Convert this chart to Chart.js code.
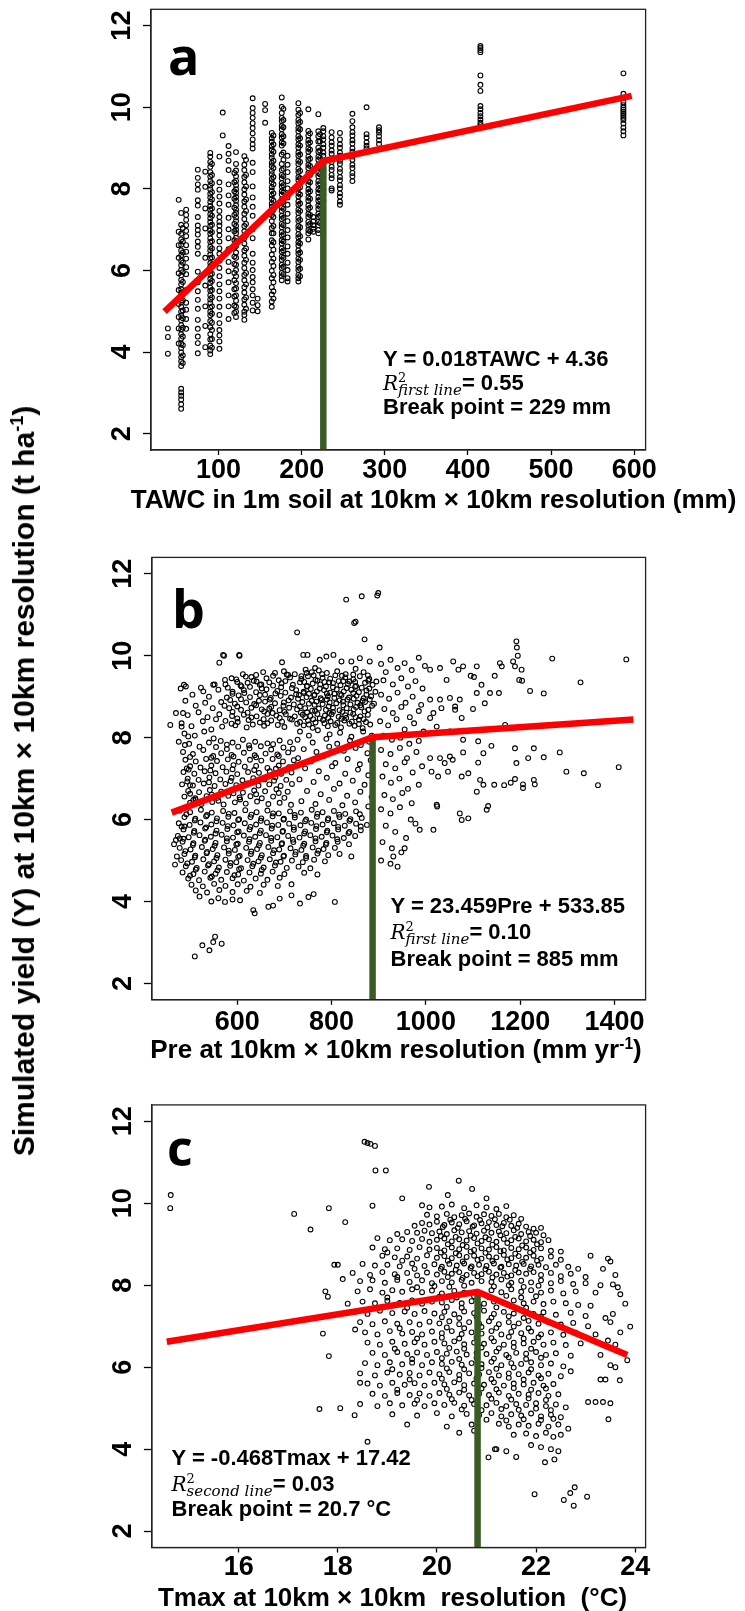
<!DOCTYPE html>
<html>
<head>
<meta charset="utf-8">
<script src="https://cdn.jsdelivr.net/npm/chart.js@4.4.1/dist/chart.umd.min.js"></script>
<style>
  body { margin: 0; background: #fff; width: 745px; height: 1611px; position: relative; overflow: hidden; }
  canvas { position: absolute; left: 0; }
  .lbl { position: absolute; white-space: nowrap; font-family: "Liberation Sans", Arial, sans-serif; font-weight: bold; color: #000; z-index: 2; }
  .letter { font-family: "Open Sans", sans-serif; }
  .lbl sup { font-size: 0.6em; vertical-align: 0; position: relative; top: -0.6em; line-height: 0; }
  .rv { font-family: "DejaVu Serif", serif; font-style: italic; font-weight: normal; font-size: 20px; }
  .sub { position: relative; top: 5px; font-family: "DejaVu Serif", serif; font-style: italic; font-weight: normal; font-size: 15px; line-height: 0; }
  .two { position: absolute; left: 15px; top: -1px; font-family: "DejaVu Serif", serif; font-weight: normal; font-size: 13px; line-height: 13px; }
  #ytitle { position: absolute; left: 26px; top: 781px; transform: translate(-50%, -50%) rotate(-90deg); font: bold 30px "Liberation Sans", Arial, sans-serif; line-height: 30px; white-space: nowrap; }
  #ytitle sup { font-size: 0.6em; vertical-align: 0; position: relative; top: -0.6em; }
</style>
</head>
<body>
<canvas id="cnvA" width="745" height="495" style="top:0px"></canvas>
<canvas id="cnvB" width="745" height="500" style="top:540px"></canvas>
<canvas id="cnvC" width="745" height="521" style="top:1090px"></canvas>
<div id="ytitle">Simulated yield (Y) at 10km × 10km resolution (t ha<sup>-1</sup>)</div>
<script>
// ---- data ----
const yieldTicks = [2, 4, 6, 8, 10, 12];
const yieldRange = [1.6, 12.4];

// panel a: TAWC (mm) columns, each with the yields seen in that column
const tawcTicks = [100, 200, 300, 400, 500, 600];
const tawcX = [39, 52, 55, 61, 75, 84, 90, 101, 105, 112, 121, 131, 141, 147, 156, 164, 176, 183, 196, 208, 214, 220, 226, 236, 246, 261, 278, 293, 415, 587,
               57, 92, 119, 133, 166, 178, 198, 210, 222];
const tawcYields = [
  [4.58, 4.37, 3.96],
  [7.73, 6.95, 6.62, 6.31, 5.93, 5.52, 5.18, 4.86, 4.58, 4.21],
  [7.41, 7.12, 6.9, 6.76, 6.63, 6.49, 6.37, 6.24, 6.13, 6.01, 5.88, 5.77, 5.66, 5.54, 5.45, 5.33, 5.22, 5.11, 4.99, 4.9, 4.78, 4.66, 4.55, 4.44, 4.33, 4.21, 4.1, 3.99, 3.87, 3.77, 3.66, 3.1, 3.01, 2.93, 2.84, 2.72, 2.61],
  [7.49, 7.36, 7.24, 7.11, 6.97, 6.84, 6.62, 6.46, 6.29, 6.08, 5.91, 5.52, 5.21, 5.04, 4.81, 4.57],
  [8.47, 8.27, 8.11, 7.98, 7.72, 7.59, 7.31, 7.1, 6.99, 6.88, 6.71, 6.58, 6.41, 5.97, 5.71, 5.49, 5.28, 5.06, 4.79, 4.57, 4.38, 4.22, 3.97],
  [8.42, 8.05, 7.52, 7.03, 6.31, 5.63, 5.12, 4.64, 4.12],
  [8.88, 8.79, 8.66, 8.54, 8.41, 8.3, 8.19, 8.08, 7.99, 7.88, 7.79, 7.68, 7.58, 7.49, 7.38, 7.28, 7.19, 7.09, 6.98, 6.9, 6.79, 6.7, 6.58, 6.49, 6.39, 6.3, 6.18, 6.09, 5.99, 5.9, 5.79, 5.7, 5.58, 5.5, 5.39, 5.29, 5.2, 5.09, 4.99, 4.9, 4.76, 4.61, 4.44, 4.31, 4.16, 4.04, 3.95],
  [8.79, 8.16, 7.98, 7.81, 7.64, 7.46, 7.31, 7.19, 7.1, 6.98, 6.86, 6.71, 6.54, 6.41, 6.24, 6.06, 5.86, 5.66, 5.49, 5.31, 5.11, 4.91, 4.71, 4.54, 4.41, 4.26, 4.08],
  [9.87, 9.31],
  [9.05, 8.86, 8.69, 8.46, 8.11, 7.84, 7.61, 7.29, 7.01, 6.79, 6.52, 6.21, 5.98, 5.71, 5.39, 5.12, 4.81],
  [8.9, 8.61, 8.45, 8.31, 8.2, 8.09, 7.99, 7.9, 7.8, 7.71, 7.6, 7.49, 7.41, 7.3, 7.21, 7.09, 7.0, 6.91, 6.8, 6.69, 6.6, 6.44, 6.31, 6.14, 6.01, 5.86, 5.69, 5.56, 5.39, 5.26, 5.11, 4.99, 4.86],
  [8.8, 8.59, 8.46, 8.29, 8.16, 7.99, 7.86, 7.69, 7.56, 7.39, 7.26, 7.09, 6.96, 6.79, 6.66, 6.49, 6.36, 6.19, 6.06, 5.89, 5.76, 5.59, 5.46, 5.29, 5.16, 4.99, 4.91, 4.79],
  [10.22, 9.98, 9.86, 9.74, 9.61, 9.49, 9.36, 9.21, 9.09, 8.99, 8.64, 8.41, 8.06, 7.79, 7.56, 7.34, 7.01, 6.79, 6.41, 6.19, 6.01, 5.84, 5.71, 5.54, 5.39, 5.21, 5.02],
  [5.31, 5.15, 5.0],
  [10.08, 9.93, 9.62],
  [9.37, 9.24, 9.16, 9.04, 8.96, 8.84, 8.76, 8.64, 8.56, 8.44, 8.36, 8.24, 8.16, 8.04, 7.96, 7.84, 7.76, 7.64, 7.56, 7.44, 7.36, 7.21, 7.04, 6.91, 6.74, 6.61, 6.39, 6.21, 5.99, 5.81, 5.59, 5.41, 5.24, 5.11],
  [10.24, 10.01, 9.86, 9.74, 9.66, 9.54, 9.46, 9.34, 9.26, 9.14, 9.06, 8.84, 8.61, 8.46, 8.34, 8.26, 8.14, 8.06, 7.94, 7.86, 7.74, 7.66, 7.54, 7.46, 7.34, 7.26, 7.14, 7.06, 6.94, 6.86, 6.74, 6.66, 6.54, 6.46, 6.34, 6.26, 6.14, 6.06, 5.94, 5.86, 5.76],
  [8.81, 8.59, 8.41, 8.19, 8.01, 7.79, 7.61, 7.39, 7.21, 6.99, 6.81, 6.59, 6.41, 6.19, 6.01, 5.81, 5.73],
  [10.1, 9.94, 9.81, 9.69, 9.61, 9.49, 9.41, 9.29, 9.21, 9.09, 9.01, 8.89, 8.81, 8.69, 8.61, 8.49, 8.41, 8.29, 8.21, 8.09, 8.01, 7.89, 7.81, 7.69, 7.61, 7.49, 7.41, 7.29, 7.21, 7.09, 7.01, 6.89, 6.81, 6.69, 6.61, 6.49, 6.41, 6.29, 6.21, 6.09, 6.01, 5.89, 5.81, 5.73],
  [9.95, 9.42, 9.31, 9.19, 9.11, 8.99, 8.91, 8.79, 8.71, 8.59, 8.51, 8.39, 8.31, 8.19, 8.11, 7.99, 7.91, 7.79, 7.71, 7.59, 7.51, 7.39, 7.31, 7.19, 7.11, 6.99, 6.91, 6.76],
  [7.31, 7.2, 7.11, 7.02, 6.95],
  [9.83, 9.41, 9.29, 9.16, 9.01, 8.91, 8.79, 8.71, 8.59, 8.51, 8.39, 8.31, 8.19, 8.11, 7.99, 7.91, 7.79, 7.71, 7.59, 7.51, 7.39, 7.31, 7.19, 7.11, 6.99, 6.91],
  [9.49, 9.41, 9.29, 9.21, 9.09, 9.01, 8.89, 8.81, 8.69, 8.61, 8.49, 8.41, 8.29, 8.11, 7.99, 7.86, 7.71],
  [9.39, 9.26, 9.14, 9.06, 8.94, 8.86, 8.74, 8.66, 8.54, 8.46, 8.34, 8.26, 8.01, 7.96],
  [9.37, 9.21, 9.09, 9.01, 8.89, 8.81, 8.69, 8.61, 8.49, 8.41, 8.29, 8.21, 8.09, 8.01, 7.89, 7.81, 7.69, 7.61],
  [9.84, 9.66, 9.51, 9.39, 9.31, 9.19, 9.11, 8.99, 8.91, 8.79, 8.71, 8.59, 8.51, 8.39, 8.31, 8.19],
  [10.0, 9.34, 9.26, 9.14, 9.06, 8.99],
  [9.51, 9.44, 9.38, 9.29, 9.19, 9.1],
  [11.5, 11.45, 11.4, 11.35, 10.78, 10.55, 10.4, 10.03, 9.95, 9.86, 9.78, 9.7, 9.62, 9.56],
  [10.83, 10.33, 10.12, 10.05, 9.99, 9.94, 9.89, 9.84, 9.79, 9.74, 9.69, 9.6, 9.5, 9.41, 9.31],
  [7.04, 6.71, 6.44, 6.19, 5.96, 5.72, 5.47, 5.27, 5.02, 4.83, 4.6, 4.38, 4.17, 3.92, 3.73],
  [8.61, 8.34, 8.14, 7.92, 7.74, 7.52, 7.34, 7.12, 6.94, 6.72, 6.54, 6.32, 6.14, 5.92, 5.74, 5.52, 5.34, 5.12, 4.94, 4.72, 4.54, 4.32, 4.11],
  [8.39, 8.16, 7.94, 7.76, 7.54, 7.36, 7.14, 6.96, 6.74, 6.56, 6.34, 6.16, 5.94, 5.76, 5.54, 5.36, 5.14, 4.96],
  [8.71, 8.34, 8.06, 7.74, 7.46, 7.14, 6.86, 6.54, 6.26, 5.94, 5.66, 5.34, 5.06],
  [9.31, 9.09, 8.91, 8.69, 8.51, 8.29, 8.11, 7.89, 7.71, 7.49, 7.31, 7.09, 6.91, 6.69, 6.51, 6.29, 6.11, 5.89, 5.71, 5.49, 5.31],
  [9.96, 9.69, 9.51, 9.29, 9.11, 8.89, 8.71, 8.49, 8.31, 8.09, 7.91, 7.69, 7.51, 7.29, 7.11, 6.89, 6.71, 6.49, 6.31, 6.09, 5.91],
  [9.86, 9.64, 9.46, 9.24, 9.06, 8.84, 8.66, 8.44, 8.26, 8.04, 7.86, 7.64, 7.46, 7.24, 7.06, 6.84, 6.66, 6.44, 6.26, 6.04, 5.86],
  [9.36, 9.14, 8.96, 8.74, 8.56, 8.34, 8.16, 7.94, 7.76, 7.54, 7.36, 7.14, 6.96],
  [9.34, 9.16, 8.94, 8.76, 8.54, 8.36, 8.14, 7.96, 7.74, 7.56, 7.34, 7.16]
];
const tawcFitX = [35, 226, 597];
const tawcFitY = [4.99, 8.68, 10.28];

// panel b: precipitation (mm/yr) vs yield
const preTicks = [600, 800, 1000, 1200, 1400];
const prePoints = [
  [831,11.37],[864,11.45],[897,11.47],[899,11.53],[848,10.8],[851,10.83],[727,10.57],[870,10.4],[902,10.2],
  [562,9.83],[572,10.0],[605,10.0],[458,8.31],[491,9.25],[570,10.02],[604,10.02],[695,9.84],[740,10.02],[749,10.02],
  [775,9.9],[789,9.98],[804,10.02],[821,9.86],[842,9.86],[860,9.94],[881,9.86],
  [487,9.29],[528,9.13],[549,9.29],[574,9.41],[588,9.45],[609,9.25],[618,9.49],[641,9.37],[648,9.29],[680,9.58],[699,9.62],[708,9.53],[747,9.58],[765,9.7],
  [612,9.55],[655,9.6],[722,9.55],[745,9.66],[758,9.6],[773,9.64],[790,9.58],[812,9.62],[830,9.55],[851,9.68],[868,9.6],
  [598,9.42],[630,9.48],[662,9.45],[688,9.4],[712,9.47],[736,9.43],[750,9.5],[766,9.41],[781,9.46],[797,9.44],[815,9.38],[829,9.47],[846,9.42],[860,9.5],[880,9.43],[895,9.37],
  [575,9.3],[607,9.28],[622,9.34],[651,9.3],[676,9.27],[694,9.33],[718,9.29],[733,9.35],[748,9.26],[760,9.32],[776,9.3],[788,9.25],[803,9.33],[819,9.28],[835,9.31],[852,9.26],[871,9.34],[887,9.29],
  [560,9.17],[590,9.12],[614,9.16],[640,9.11],[662,9.18],[685,9.14],[702,9.1],[725,9.16],[741,9.12],[756,9.19],[769,9.13],[784,9.16],[797,9.1],[811,9.18],[826,9.13],[842,9.17],[858,9.11],[874,9.15],[893,9.12],
  [578,8.98],[603,9.03],[627,8.99],[648,9.04],[671,8.97],[692,9.02],[714,8.98],[731,9.04],[747,8.99],[763,9.03],[777,8.96],[792,9.01],[806,8.97],[821,9.04],[837,8.98],[853,9.02],[868,8.96],[884,9.01],
  [566,8.87],[595,8.83],[619,8.86],[636,8.82],[659,8.88],[680,8.84],[699,8.86],[720,8.81],[738,8.87],[752,8.83],[768,8.88],[781,8.82],[796,8.86],[810,8.84],[824,8.88],[840,8.81],[855,8.85],[871,8.87],[890,8.83],
  [583,8.72],[608,8.68],[630,8.73],[652,8.69],[668,8.71],[690,8.67],[710,8.73],[727,8.69],[744,8.72],[759,8.66],[773,8.71],[788,8.68],[803,8.73],[817,8.67],[832,8.72],[847,8.69],[863,8.74],[878,8.68],
  [562,8.57],[589,8.53],[614,8.56],[641,8.52],[664,8.58],[683,8.54],[703,8.57],[722,8.52],[739,8.56],[755,8.53],[770,8.58],[786,8.54],[800,8.57],[815,8.51],[829,8.55],[846,8.58],[861,8.52],[877,8.56],
  [575,8.41],[601,8.38],[624,8.43],[648,8.37],[672,8.42],[695,8.39],[716,8.44],[733,8.38],[750,8.42],[766,8.37],[782,8.43],[798,8.4],[812,8.36],[827,8.42],[843,8.39],[858,8.44],[873,8.38],
  [568,8.27],[596,8.3],[620,8.25],[657,8.29],[700,8.26],[741,8.3],[760,8.24],[792,8.28],[820,8.25],[849,8.29],[866,8.23],
  [762,9.52],[785,9.36],[808,9.52],[838,9.37],[864,9.22],[752,9.07],[779,8.92],[806,9.07],[834,8.93],[861,8.79],[748,8.62],[775,8.47],[803,8.63],[831,8.48],[858,8.33],
  [640,9.53],[676,9.51],[705,9.54],[736,9.5],[780,9.55],[822,9.51],[846,9.54],[877,9.52],
  [600,9.36],[635,9.39],[668,9.35],[702,9.38],[742,9.36],[770,9.39],[795,9.35],[825,9.38],[850,9.36],[878,9.39],
  [580,9.22],[627,9.24],[652,9.2],[693,9.23],[716,9.21],[748,9.25],[775,9.2],[803,9.23],[832,9.21],[850,9.24],[880,9.2],
  [590,9.07],[615,9.09],[659,9.05],[681,9.08],[725,9.06],[741,9.09],[764,9.05],[790,9.08],[818,9.06],[846,9.09],[874,9.05],
  [585,8.92],[608,8.94],[646,8.9],[669,8.93],[709,8.91],[729,8.95],[758,8.9],[790,8.93],[817,8.91],[847,8.95],[866,8.9],[881,8.93],
  [573,8.78],[600,8.76],[640,8.79],[672,8.75],[698,8.78],[733,8.76],[764,8.8],[794,8.76],[825,8.79],[852,8.75],[886,8.78],
  [590,8.63],[622,8.61],[657,8.64],[675,8.6],[700,8.63],[735,8.61],[765,8.65],[796,8.6],[823,8.63],[840,8.61],[870,8.64],
  [600,8.47],[630,8.49],[656,8.45],[690,8.48],[712,8.46],[744,8.5],[761,8.45],[793,8.48],[821,8.46],[851,8.5],[868,8.45],
  [588,8.34],[633,8.32],[664,8.35],[686,8.31],[727,8.34],[752,8.32],[785,8.35],[808,8.31],[838,8.34],[882,8.32],
  [480,9.2],[505,9.05],[523,9.22],[540,9.0],[552,9.3],[490,8.9],[512,8.78],[532,8.85],[548,8.72],[470,8.6],[495,8.55],[518,8.62],[537,8.5],[555,8.45],
  [482,8.35],[503,8.28],[527,8.4],[545,8.2],[488,8.1],[510,8.05],[530,8.15],[550,7.98],[476,7.9],[498,7.85],[520,7.78],[540,7.88],[485,7.65],[506,7.6],[528,7.7],[549,7.55],
  [565,7.92],[590,7.88],[612,7.95],[638,7.9],[664,7.86],[690,7.93],[712,7.89],
  [555,7.77],[578,7.72],[602,7.78],[626,7.74],[650,7.79],[672,7.71],[698,7.76],[718,7.73],
  [566,7.62],[588,7.58],[614,7.63],[637,7.57],[660,7.61],[685,7.59],[708,7.64],
  [490,7.46],[512,7.42],[534,7.48],[557,7.43],[580,7.47],[603,7.41],[627,7.46],[651,7.44],[675,7.48],[697,7.42],[720,7.45],
  [500,7.3],[522,7.27],[545,7.32],[569,7.28],[592,7.33],[616,7.29],[640,7.31],[664,7.26],[688,7.32],[710,7.28],
  [486,7.16],[509,7.12],[531,7.18],[554,7.13],[577,7.17],[600,7.11],[623,7.16],[646,7.14],[669,7.18],[693,7.12],[715,7.15],
  [495,7.0],[518,6.97],[541,7.03],[564,6.98],[588,7.02],[611,6.96],[634,7.01],[658,6.98],[681,7.03],[704,6.97],
  [483,6.86],[506,6.83],[529,6.88],[552,6.82],[575,6.87],[598,6.84],[622,6.88],[645,6.83],[668,6.86],[692,6.82],[716,6.87],
  [496,6.7],[519,6.67],[542,6.72],[566,6.68],[589,6.73],[612,6.66],[636,6.71],[659,6.69],[683,6.74],[707,6.68],
  [488,6.56],[511,6.52],[535,6.57],[558,6.53],[581,6.58],[605,6.54],[628,6.57],[652,6.52],[676,6.56],[700,6.53],
  [500,6.41],[524,6.38],[547,6.43],[571,6.37],[595,6.42],[618,6.39],[642,6.44],[666,6.38],[690,6.41],[714,6.36],
  [578,7.83],[625,7.81],[676,7.84],[500,7.53],[545,7.51],[592,7.54],[640,7.52],[688,7.55],
  [497,7.22],[543,7.2],[590,7.23],[636,7.21],[682,7.24],[494,6.93],[540,6.91],[586,6.94],[632,6.92],[678,6.95],
  [500,6.63],[546,6.61],[592,6.64],[640,6.62],[688,6.65],[512,6.48],[560,6.46],[606,6.49],
  [733,8.15],[752,8.05],[771,8.18],[796,8.08],[818,8.12],[842,8.02],[867,8.15],[885,8.05],
  [728,7.95],[760,7.88],[789,7.97],[812,7.85],[839,7.93],[862,7.82],[880,7.9],
  [741,7.72],[768,7.65],[795,7.78],[826,7.68],[851,7.75],[876,7.62],
  [729,7.5],[756,7.42],[783,7.55],[808,7.38],[834,7.48],[860,7.35],[883,7.45],
  [744,7.25],[773,7.18],[801,7.3],[829,7.12],[856,7.22],[878,7.08],
  [732,6.98],[762,6.92],[790,7.02],[817,6.88],[845,6.95],[870,6.85],
  [748,6.7],[777,6.62],[805,6.75],[833,6.58],[861,6.68],[885,6.55],
  [736,6.45],[766,6.38],[795,6.48],[823,6.35],[850,6.42],[878,6.32],
  [478,6.22],[500,6.18],[523,6.24],[546,6.17],[570,6.21],[594,6.16],[617,6.23],[641,6.18],[664,6.22],[688,6.15],[712,6.2],[735,6.17],[758,6.24],[781,6.18],[805,6.21],[829,6.14],[852,6.2],
  [488,6.06],[511,6.02],[534,6.08],[557,6.03],[581,6.07],[604,6.01],[628,6.06],[651,6.03],[675,6.08],[699,6.02],[722,6.05],[746,6.0],[769,6.07],[793,6.03],[817,6.06],[840,6.01],[864,6.04],
  [476,5.91],[499,5.87],[522,5.93],[545,5.88],[569,5.92],[592,5.86],[616,5.91],[640,5.88],[663,5.93],[687,5.87],[710,5.9],[734,5.86],[757,5.92],[781,5.88],[805,5.91],[828,5.85],[852,5.9],[875,5.87],
  [486,5.76],[509,5.72],[532,5.78],[556,5.73],[579,5.77],[603,5.71],[626,5.76],[650,5.73],[673,5.78],[697,5.72],[720,5.75],[744,5.71],[767,5.77],[791,5.73],[814,5.76],[838,5.7],[862,5.74],
  [474,5.6],[497,5.57],[520,5.62],[544,5.58],[567,5.63],[591,5.56],[614,5.61],[638,5.58],[661,5.62],[685,5.57],[708,5.6],[732,5.56],[755,5.62],[779,5.58],[802,5.61],[826,5.55],[850,5.6],
  [484,5.46],[507,5.42],[531,5.48],[554,5.43],[578,5.47],[601,5.41],[625,5.46],[648,5.43],[672,5.48],[695,5.42],[719,5.45],[742,5.41],[766,5.47],[789,5.43],[813,5.46],[837,5.4],
  [478,5.31],[501,5.27],[525,5.33],[548,5.28],[572,5.32],[595,5.26],[619,5.31],[642,5.28],[666,5.33],[689,5.27],[713,5.3],[736,5.26],[760,5.32],[783,5.28],[807,5.31],
  [488,5.16],[511,5.12],[535,5.18],[558,5.13],[582,5.17],[605,5.11],[629,5.16],[652,5.13],[676,5.18],[699,5.12],[723,5.15],[746,5.11],[770,5.17],[793,5.13],[817,5.16],[842,5.1],
  [481,5.01],[504,4.97],[528,5.03],[551,4.98],[575,5.02],[598,4.96],[622,5.01],[645,4.98],[669,5.03],[692,4.97],[716,5.0],[739,4.96],[763,5.02],[786,4.98],
  [491,4.86],[514,4.82],[538,4.88],[561,4.83],[585,4.87],[608,4.81],[632,4.86],[656,4.83],[680,4.88],[705,4.82],[730,4.85],[755,4.81],
  [484,4.71],[507,4.67],[531,4.73],[554,4.68],[578,4.72],[602,4.66],[626,4.71],[650,4.68],[675,4.73],[700,4.67],[742,4.7],[770,4.66],
  [496,4.56],[519,4.52],[543,4.58],[566,4.53],[590,4.57],[614,4.51],[639,4.56],[664,4.53],[690,4.58],
  [503,4.41],[527,4.37],[551,4.43],[575,4.38],[601,4.42],[628,4.36],[656,4.41],[686,4.38],[715,4.42],
  [512,4.27],[536,4.22],[562,4.28],[590,4.23],[620,4.26],[648,4.21],
  [492,6.13],[536,6.11],[582,6.14],[630,6.12],[676,6.15],[722,6.11],[770,6.14],[816,6.12],[860,6.13],
  [510,5.98],[556,5.96],[602,5.99],[650,5.97],[698,6.0],[744,5.96],[792,5.99],[838,5.97],
  [488,5.83],[534,5.81],[580,5.84],[628,5.82],[674,5.85],[720,5.81],[768,5.84],[814,5.82],[862,5.83],
  [508,5.68],[554,5.66],[600,5.69],[648,5.67],[696,5.7],[742,5.66],[790,5.69],[836,5.67],
  [486,5.53],[532,5.51],[578,5.54],[626,5.52],[672,5.55],[718,5.51],[766,5.54],[812,5.52],
  [506,5.38],[552,5.36],[598,5.39],[646,5.37],[694,5.4],[740,5.36],[788,5.39],
  [490,5.23],[536,5.21],[582,5.24],[630,5.22],[678,5.25],[724,5.21],[772,5.24],
  [510,5.08],[556,5.06],[602,5.09],[650,5.07],[698,5.1],[746,5.06],
  [494,4.93],[540,4.91],[586,4.94],[634,4.92],[682,4.95],[512,4.78],[558,4.76],[604,4.79],[652,4.77],[500,4.63],[546,4.61],[594,4.64],
  [574,3.99],[590,4.05],[606,4.03],[634,3.79],[637,3.71],[666,3.87],[676,3.9],[690,4.07],[715,4.15],[733,3.95],[751,4.11],[762,4.18],[807,3.99],[545,4.0],[560,4.08],[520,4.12],
  [510,2.66],[526,2.93],[541,2.81],[549,3.01],[553,3.14],[567,2.97],
  [485,8.6],[482,8.27],[489,7.82],[496,8.03],[493,7.25],[500,6.84],[507,6.48],[482,5.83],[478,5.54],[470,5.5],[466,5.4],[472,5.1],[468,4.9],
  [905,9.8],[915,9.6],[925,9.9],[940,9.7],[955,9.82],[970,9.65],[985,9.95],[998,9.75],
  [910,9.4],[930,9.3],[948,9.45],[962,9.25],[978,9.38],[993,9.2],
  [905,9.05],[922,8.95],[940,9.1],[957,8.85],[972,9.0],[990,8.8],
  [912,8.7],[930,8.6],[948,8.75],[966,8.5],[985,8.65],
  [903,8.4],[920,8.3],[938,8.45],[955,8.2],[975,8.35],[995,8.15],
  [910,8.05],[928,7.95],[946,8.0],[965,7.85],[985,7.92],
  [905,7.7],[925,7.6],[945,7.75],[960,7.5],[980,7.65],
  [915,7.35],[935,7.25],[955,7.4],[972,7.15],[992,7.3],
  [908,7.05],[926,6.9],[944,7.0],[962,6.75],[985,6.85],
  [912,6.6],[930,6.5],[950,6.65],[970,6.4],
  [905,6.25],[925,6.15],[945,6.3],[968,6.0],
  [915,5.85],[935,5.7],[958,5.55],[978,5.9],[987,5.75],
  [908,5.45],[928,5.3],[948,5.2],[955,5.3],
  [905,5.0],[925,4.92],[931,5.1],[940,4.85],
  [1009,9.66],[1030,9.7],[1044,9.41],[1058,9.86],[1069,9.66],[1079,9.74],[1095,9.51],[1102,9.48],[1108,9.74],[1118,9.29],
  [1108,9.09],[1125,8.84],[1136,9.09],[1146,9.51],[1155,9.09],[1157,9.82],[1161,9.74],[1185,9.86],[1189,9.74],[1198,9.41],[1203,9.66],
  [1009,8.93],[1030,8.93],[1051,8.97],[1072,8.93],[1033,8.72],[1062,8.76],[1100,8.7],[1016,8.6],[1009,8.48],[1076,8.48],[1062,8.68],
  [1168,8.31],[1023,8.27],[1051,8.15],[1079,7.95],[1111,7.91],[1139,7.8],[1079,7.64],[1051,7.54],[1030,7.5],[1040,7.38],[1057,7.46],[1009,7.5],
  [1012,7.17],[1026,7.05],[1047,7.17],[1076,7.05],[1090,7.13],[1111,7.39],[1122,7.62],[1115,6.97],[1122,6.85],[1108,6.68],
  [1023,6.36],[1024,6.32],[1072,6.15],[1090,6.03],[1076,5.99],[1129,6.24],[1132,6.33],[1016,5.75],
  [1206,6.77],[1206,6.86],[1229,6.97],[1231,6.86],[1189,6.99],[1180,6.9],[1166,6.84],[1145,6.85],
  [1217,7.5],[1229,7.74],[1250,7.52],[1284,7.64],[1189,7.74],[1192,7.38],
  [1192,10.35],[1193,10.2],[1195,10.0],[1221,9.14],[1250,9.08],[1268,9.93],[1328,9.35],[1425,9.91],[1298,7.17],[1335,7.13],[1365,6.84],[1409,7.28],[1204,9.39]
];
const preFitX = [461, 887, 1440];
const preFitY = [6.17, 8.01, 8.44];

// panel c: Tmax (degC) vs yield
const tmaxTicks = [16, 18, 20, 22, 24];
const tmaxPoints = [
  [14.63,10.2],[14.62,9.88],[17.12,9.74],[17.45,9.36],[17.82,9.88],[18.15,9.54],[18.54,11.5],[18.6,11.47],[18.66,11.45],[18.75,11.4],
  [18.76,10.8],[18.97,10.8],[18.7,9.94],[19.3,10.12],[19.84,10.4],[20.44,10.55],[20.22,10.2],[20.71,10.35],[21.0,10.12],[17.93,8.5],
  [21.97,2.9],[22.56,2.76],[22.69,2.93],[22.78,3.07],[22.76,2.62],[23.03,2.84],
  [20.1,9.92],[20.3,9.97],[20.55,9.88],[20.8,9.95],[21.0,9.9],[21.2,9.86],[21.4,9.93],[19.7,9.95],[19.85,9.9],
  [19.8,9.72],[20.0,9.68],[20.2,9.74],[20.35,9.66],[20.5,9.71],[20.65,9.75],[20.8,9.67],[20.95,9.73],[21.1,9.69],[21.25,9.74],[21.4,9.66],[21.55,9.71],[21.7,9.62],
  [20.27,9.6],[20.57,9.62],[20.87,9.59],[21.17,9.61],[21.47,9.6],
  [19.55,9.45],[19.7,9.52],[19.85,9.48],[20.0,9.55],[20.15,9.47],[20.3,9.53],[20.45,9.49],[20.6,9.56],[20.75,9.46],[20.9,9.51],[21.05,9.54],[21.2,9.47],[21.35,9.52],[21.5,9.45],[21.65,9.5],[21.8,9.43],[21.95,9.38],[22.1,9.4],
  [20.12,9.42],[20.42,9.4],[20.72,9.43],[21.02,9.41],[21.32,9.44],[21.62,9.4],
  [19.2,9.25],[19.4,9.3],[19.6,9.28],[19.75,9.33],[19.9,9.27],[20.05,9.31],[20.2,9.25],[20.35,9.34],[20.5,9.29],[20.65,9.32],[20.8,9.26],[20.95,9.33],[21.1,9.28],[21.25,9.31],[21.4,9.27],[21.55,9.34],[21.7,9.25],[21.85,9.3],[22.0,9.28],[22.15,9.22],
  [20.08,9.2],[20.38,9.18],[20.68,9.21],[20.98,9.17],[21.28,9.22],[21.58,9.18],[21.88,9.2],
  [18.8,9.15],[19.05,9.1],[19.3,9.12],[19.5,9.08],[19.7,9.13],[19.85,9.06],[20.0,9.11],[20.15,9.14],[20.3,9.07],[20.45,9.12],[20.6,9.09],[20.75,9.15],[20.9,9.08],[21.05,9.12],[21.2,9.06],[21.35,9.13],[21.5,9.1],[21.65,9.14],[21.8,9.07],[21.95,9.11],[22.1,9.05],[22.25,9.1],
  [20.22,9.0],[20.52,8.98],[20.82,9.02],[21.12,8.99],[21.42,9.03],[21.72,8.97],[22.02,9.0],
  [18.7,8.92],[18.95,8.88],[19.2,8.9],[19.45,8.86],[19.65,8.93],[19.85,8.87],[20.0,8.91],[20.15,8.85],[20.3,8.92],[20.45,8.88],[20.6,8.94],[20.75,8.86],[20.9,8.9],[21.05,8.87],[21.2,8.93],[21.35,8.85],[21.5,8.91],[21.65,8.88],[21.8,8.92],[21.95,8.86],[22.1,8.9],[22.3,8.84],[22.5,8.82],
  [20.08,8.8],[20.38,8.78],[20.68,8.82],[20.98,8.79],[21.28,8.83],[21.58,8.77],[21.88,8.8],[19.0,8.8],
  [18.9,8.72],[19.15,8.68],[19.4,8.7],[19.6,8.65],[19.8,8.73],[20.0,8.67],[20.15,8.71],[20.3,8.66],[20.45,8.73],[20.6,8.69],[20.75,8.72],[20.9,8.65],[21.05,8.7],[21.2,8.68],[21.35,8.74],[21.5,8.66],[21.65,8.71],[21.8,8.67],[21.95,8.72],[22.1,8.65],[22.3,8.7],[22.5,8.62],[23.1,8.72],[23.45,8.65],[23.5,8.58],
  [20.22,8.6],[20.52,8.58],[20.82,8.62],[21.12,8.59],[21.42,8.63],[21.72,8.57],[22.02,8.6],[19.3,8.6],
  [18.0,8.5],[18.5,8.52],[18.75,8.48],[19.0,8.5],[19.25,8.46],[19.5,8.53],[19.75,8.47],[19.95,8.51],[20.1,8.45],[20.25,8.52],[20.4,8.48],[20.55,8.53],[20.7,8.46],[20.85,8.5],[21.0,8.47],[21.15,8.53],[21.3,8.45],[21.45,8.51],[21.6,8.48],[21.75,8.52],[21.9,8.46],[22.05,8.5],[22.2,8.44],[22.4,8.5],[22.65,8.45],[22.85,8.4],[23.35,8.4],
  [20.08,8.4],[20.38,8.38],[20.68,8.42],[20.98,8.39],[21.28,8.43],[21.58,8.37],[21.88,8.4],[19.55,8.4],
  [18.3,8.3],[18.65,8.25],[18.9,8.32],[19.15,8.27],[19.4,8.3],[19.6,8.24],[19.8,8.31],[20.0,8.26],[20.15,8.33],[20.3,8.28],[20.45,8.32],[20.6,8.25],[20.75,8.3],[20.9,8.27],[21.05,8.33],[21.2,8.26],[21.35,8.3],[21.5,8.24],[21.65,8.31],[21.8,8.28],[21.95,8.32],[22.1,8.25],[22.3,8.3],[22.5,8.22],[22.7,8.28],[23.0,8.2],[23.6,8.25],
  [20.22,8.2],[20.52,8.18],[20.82,8.22],[21.12,8.19],[21.42,8.21],[19.2,8.2],
  [18.1,8.15],[18.45,8.1],[18.7,8.12],[18.95,8.06],[19.2,8.13],[19.45,8.08],[19.7,8.12],[19.9,8.05],[20.1,8.1],[20.3,8.07],[20.5,8.13],[20.7,8.06],[20.9,8.1],[21.1,8.08],[21.3,8.14],[21.5,8.06],[21.7,8.11],[21.9,8.07],[22.1,8.12],[22.3,8.05],[22.5,8.1],[22.75,8.03],[23.0,8.05],[23.3,8.0],[23.55,8.02],[23.65,7.95],
  [19.95,7.98],[20.25,7.96],[20.55,7.99],[21.15,7.97],[21.45,8.0],[21.75,7.96],[22.05,7.99],[19.6,7.95],
  [18.4,7.85],[18.65,7.9],[18.9,7.82],[19.1,7.88],[19.3,7.84],[19.5,7.9],[19.7,7.83],[19.9,7.87],[20.1,7.8],[20.35,7.86],[20.55,7.82],[21.1,7.88],[21.3,7.83],[21.5,7.9],[21.7,7.84],[21.9,7.88],[22.1,7.82],[22.3,7.87],[22.55,7.8],[22.8,7.85],[23.2,7.82],[23.7,7.78],[17.75,7.85],[17.8,7.72],
  [20.05,7.72],[20.4,7.7],[20.75,7.73],[21.05,7.71],[21.4,7.74],[21.7,7.7],[22.0,7.73],[19.0,7.7],
  [18.2,7.55],[18.5,7.6],[18.75,7.56],[19.0,7.62],[19.25,7.57],[19.5,7.63],[19.7,7.55],[19.9,7.6],[20.1,7.58],[20.3,7.64],[20.5,7.56],[20.7,7.61],[20.95,7.55],[21.15,7.6],[21.35,7.57],[21.55,7.63],[21.75,7.56],[21.95,7.6],[22.15,7.54],[22.35,7.6],[22.6,7.56],[22.85,7.52],[23.1,7.5],[23.8,7.55],
  [20.2,7.47],[20.5,7.45],[20.85,7.48],[21.2,7.46],[21.5,7.49],[21.8,7.45],[19.4,7.45],
  [18.35,7.35],[18.6,7.3],[18.85,7.38],[19.1,7.32],[19.35,7.36],[19.55,7.3],[19.75,7.37],[19.95,7.31],[20.15,7.35],[20.35,7.29],[20.55,7.36],[20.75,7.32],[20.95,7.38],[21.15,7.3],[21.35,7.35],[21.55,7.31],[21.75,7.37],[21.95,7.3],[22.15,7.34],[22.4,7.28],[22.7,7.33],[23.0,7.25],[23.4,7.2],[23.55,7.3],
  [20.1,7.22],[20.45,7.2],[20.8,7.23],[21.1,7.21],[21.45,7.24],[21.75,7.2],[22.1,7.23],
  [18.45,7.1],[18.7,7.05],[18.95,7.12],[19.2,7.06],[19.45,7.1],[19.65,7.04],[19.85,7.11],[20.05,7.07],[20.25,7.12],[20.45,7.05],[20.65,7.1],[20.85,7.06],[21.05,7.12],[21.25,7.05],[21.45,7.1],[21.65,7.07],[21.85,7.13],[22.05,7.06],[22.25,7.1],[22.5,7.04],[22.75,7.08],[23.05,7.0],[23.5,7.1],[23.9,6.99],
  [20.2,6.97],[20.55,6.95],[20.9,6.98],[21.2,6.96],[21.55,6.99],[21.85,6.95],[19.25,6.95],
  [18.55,6.85],[18.8,6.8],[19.05,6.88],[19.3,6.82],[19.5,6.86],[19.7,6.8],[19.9,6.87],[20.1,6.83],[20.3,6.88],[20.5,6.81],[20.7,6.85],[20.9,6.82],[21.1,6.88],[21.3,6.8],[21.5,6.86],[21.7,6.83],[21.9,6.87],[22.1,6.8],[22.3,6.85],[22.55,6.79],[22.8,6.84],[23.2,6.8],[23.7,6.85],[17.7,6.82],[18.35,6.92],
  [20.1,6.72],[20.45,6.7],[20.8,6.73],[21.1,6.71],[21.45,6.74],[21.75,6.7],[22.05,6.73],[19.6,6.7],
  [18.6,6.6],[18.85,6.55],[19.1,6.62],[19.35,6.57],[19.55,6.61],[19.75,6.55],[19.95,6.62],[20.15,6.58],[20.35,6.63],[20.55,6.56],[20.75,6.6],[20.95,6.57],[21.15,6.63],[21.35,6.55],[21.55,6.6],[21.75,6.58],[21.95,6.62],[22.15,6.55],[22.35,6.6],[22.6,6.54],[22.9,6.58],[23.45,6.65],[23.6,6.55],
  [20.25,6.47],[20.55,6.45],[20.9,6.48],[21.25,6.46],[21.55,6.49],[21.9,6.45],[19.15,6.45],
  [18.7,6.35],[18.95,6.3],[19.2,6.37],[19.4,6.32],[19.6,6.36],[19.8,6.3],[20.0,6.37],[20.2,6.33],[20.4,6.38],[20.6,6.31],[20.8,6.35],[21.0,6.32],[21.2,6.38],[21.4,6.3],[21.6,6.35],[21.8,6.33],[22.0,6.37],[22.2,6.3],[22.4,6.34],[22.7,6.28],[17.82,6.27],[23.3,6.3],
  [20.1,6.22],[20.45,6.2],[20.8,6.23],[21.15,6.21],[21.45,6.24],[21.8,6.2],[22.1,6.23],[19.5,6.2],
  [18.55,6.1],[18.8,6.05],[19.05,6.12],[19.3,6.07],[19.5,6.11],[19.7,6.05],[19.9,6.12],[20.1,6.08],[20.3,6.13],[20.5,6.06],[20.7,6.1],[20.9,6.07],[21.1,6.13],[21.3,6.05],[21.5,6.1],[21.7,6.08],[21.9,6.12],[22.1,6.05],[22.3,6.09],[22.55,6.02],[23.5,6.05],[23.6,6.0],[23.84,6.17],
  [20.2,5.97],[20.55,5.95],[20.9,5.98],[21.2,5.96],[21.55,5.99],[21.9,5.95],[19.1,5.95],
  [18.45,5.85],[18.75,5.8],[19.0,5.87],[19.25,5.82],[19.45,5.86],[19.65,5.8],[19.85,5.87],[20.05,5.83],[20.25,5.88],[20.45,5.81],[20.65,5.85],[20.85,5.82],[21.05,5.88],[21.25,5.8],[21.45,5.85],[21.65,5.83],[21.85,5.87],[22.05,5.8],[22.25,5.84],[22.5,5.78],[22.7,5.9],
  [20.1,5.72],[20.45,5.7],[20.8,5.73],[21.1,5.71],[21.45,5.74],[21.75,5.7],[22.1,5.73],[19.45,5.7],
  [18.6,5.6],[18.85,5.55],[19.1,5.62],[19.35,5.57],[19.55,5.61],[19.75,5.55],[19.95,5.62],[20.15,5.58],[20.35,5.63],[20.55,5.56],[20.75,5.6],[20.95,5.57],[21.15,5.63],[21.35,5.55],[21.55,5.6],[21.75,5.58],[21.95,5.62],[22.15,5.55],[22.35,5.59],[23.3,5.7],[23.4,5.7],[23.69,5.68],[18.45,5.62],
  [20.2,5.47],[20.55,5.45],[20.9,5.48],[21.2,5.46],[21.55,5.49],[21.9,5.45],[22.2,5.48],[19.2,5.45],
  [18.7,5.35],[18.95,5.3],[19.2,5.37],[19.45,5.32],[19.65,5.36],[19.85,5.3],[20.05,5.37],[20.25,5.33],[20.45,5.38],[20.65,5.31],[20.85,5.35],[21.05,5.32],[21.25,5.38],[21.45,5.3],[21.65,5.35],[21.85,5.33],[22.05,5.37],[22.25,5.3],[22.45,5.34],
  [20.3,5.22],[20.7,5.2],[21.1,5.23],[21.5,5.21],[21.85,5.24],[22.2,5.2],[19.6,5.2],
  [18.45,5.1],[18.8,5.05],[19.05,5.12],[19.3,5.07],[19.55,5.11],[19.75,5.05],[19.95,5.12],[20.15,5.08],[20.35,5.13],[20.55,5.06],[20.75,5.1],[21.0,5.07],[21.2,5.13],[21.4,5.05],[21.6,5.1],[21.8,5.08],[22.0,5.12],[22.2,5.05],[22.4,5.09],[22.6,5.02],[23.05,5.15],[23.2,5.15],[23.35,5.15],[23.5,5.12],[17.63,4.98],[18.05,5.0],
  [20.5,4.97],[20.9,4.95],[21.3,4.98],[21.65,4.96],[22.0,4.99],[22.3,4.95],
  [18.34,4.83],[19.1,4.85],[19.6,4.82],[20.0,4.88],[20.3,4.8],[20.6,4.86],[20.85,4.83],[21.1,4.88],[21.3,4.8],[21.5,4.85],[21.7,4.82],[21.9,4.87],[22.1,4.8],[22.3,4.84],[22.5,4.78],[23.46,4.73],
  [21.0,4.72],[21.4,4.7],[21.75,4.73],[22.1,4.71],[22.35,4.74],
  [19.4,4.6],[20.2,4.55],[20.7,4.6],[21.25,4.62],[21.45,4.55],[21.65,4.6],[21.85,4.57],[22.05,4.62],[22.25,4.55],[22.45,4.6],[22.65,4.5],
  [20.45,4.4],[20.75,4.45],[21.55,4.35],[21.8,4.38],[22.0,4.32],[22.2,4.4],[22.35,4.3],[22.5,4.35],[18.6,4.18],
  [21.2,4.0],[21.4,3.95],[21.6,3.81],[21.9,4.1],[22.1,4.05],[22.3,4.0],[22.45,3.95],[21.04,3.8],[21.17,4.0],[22.37,3.75],[22.18,3.68]
];
const tmaxFitX = [14.55, 20.82, 23.84];
const tmaxFitY = [6.62, 7.84, 6.30];

// ---- drawing ----
const FONT = '"Liberation Sans", Arial, sans-serif';
const RED = '#ff0000';
const GREEN = '#3b5a26';

const boxPlugin = {
  id: 'box',
  afterDraw(chart) {
    const a = chart.chartArea, ctx = chart.ctx;
    ctx.save();
    ctx.strokeStyle = '#222';
    ctx.lineWidth = 1.3;
    ctx.strokeRect(a.left, a.top, a.right - a.left, a.bottom - a.top);
    ctx.restore();
  }
};

function buildPanel(id, frame, xRange, xTicks, points, fitX, fitY) {
  const fit = fitX.map((x, i) => ({x: x, y: fitY[i]}));
  const brk = [{x: fitX[1], y: yieldRange[0]}, {x: fitX[1], y: fitY[1]}];
  const tickFont = {family: FONT, size: 27, weight: 'bold', lineHeight: 1};
  return new Chart(document.getElementById(id), {
    type: 'scatter',
    data: {
      datasets: [
        {data: fit, showLine: true, borderColor: RED, borderWidth: 6.5, pointRadius: 0, order: 0},
        {data: brk, showLine: true, borderColor: GREEN, borderWidth: 6.5, pointRadius: 0, order: 1},
        {data: points, pointRadius: 2.4, pointBorderWidth: 1.1, pointBorderColor: '#000',
         pointBackgroundColor: 'rgba(0,0,0,0)', order: 2}
      ]
    },
    options: {
      responsive: false,
      animation: false,
      events: [],
      layout: {padding: {left: 0, right: 745 - frame.right, top: frame.top, bottom: 0}},
      plugins: {legend: {display: false}, tooltip: {enabled: false}},
      scales: {
        x: {
          type: 'linear', min: xRange[0], max: xRange[1],
          afterBuildTicks: s => { s.ticks = xTicks.map(v => ({value: v})); },
          afterFit: s => { s.height = frame.h - frame.bottom; s.paddingLeft = 0; s.paddingRight = 0; },
          grid: {drawOnChartArea: false, drawTicks: true, tickLength: 5, tickWidth: 1.3, tickColor: '#000'},
          border: {display: true, color: '#222', width: 1.3},
          ticks: {font: tickFont, color: '#000', padding: frame.xPad, maxRotation: 0, autoSkip: false,
                  callback: v => String(v)}
        },
        y: {
          type: 'linear', min: yieldRange[0], max: yieldRange[1],
          afterBuildTicks: s => { s.ticks = yieldTicks.map(v => ({value: v})); },
          afterFit: s => { s.width = frame.left; s.paddingTop = 0; s.paddingBottom = 0; },
          grid: {drawOnChartArea: false, drawTicks: true, tickLength: 8, tickWidth: 1.3, tickColor: '#000'},
          border: {display: true, color: '#222', width: 1.3},
          ticks: {font: tickFont, color: '#000', padding: 5.5, minRotation: 90, maxRotation: 90,
                  crossAlign: 'center', autoSkip: false, callback: v => String(v)}
        }
      }
    },
    plugins: [boxPlugin]
  });
}

const tawcPoints = [];
tawcX.forEach((x, i) => tawcYields[i].forEach(y => tawcPoints.push({x: x, y: y})));
const asXY = arr => arr.map(p => ({x: p[0], y: p[1]}));

buildPanel('cnvA', {h: 495, left: 151, right: 645.6, top: 9.3, bottom: 450, xPad: 2.1},
  [18.7, 613.7], tawcTicks, tawcPoints, tawcFitX, tawcFitY);
buildPanel('cnvB', {h: 500, left: 151.9, right: 645.6, top: 17.4, bottom: 459.8, xPad: 4.1},
  [419, 1466], preTicks, asXY(prePoints), preFitX, preFitY);
buildPanel('cnvC', {h: 521, left: 151.9, right: 645.6, top: 14.9, bottom: 457.5, xPad: 1.6},
  [14.25, 24.21], tmaxTicks, asXY(tmaxPoints), tmaxFitX, tmaxFitY);

// ---- text ----
function addText(html, x, baseline, size, cls, center) {
  const d = document.createElement('div');
  d.className = 'lbl ' + (cls || '');
  d.innerHTML = html;
  d.style.fontSize = size + 'px';
  d.style.lineHeight = size + 'px';
  const k = cls === 'letter' ? 0.888 : 0.8465;
  d.style.top = (baseline - k * size) + 'px';
  d.style.left = x + 'px';
  if (center) d.style.transform = 'translateX(-50%)';
  document.body.appendChild(d);
}
function rsq(which, val) {
  return '<span class="rv">R</span><span class="two">2</span><span class="sub">' + which + '</span>= ' + val;
}

addText('a', 168, 75, 52, 'letter');
addText('b', 172, 628, 52, 'letter');
addText('c', 167, 1166, 50, 'letter');

addText('Y = 0.018TAWC + 4.36', 383, 367, 22);
addText(rsq('first line', '0.55'), 383, 391, 22);
addText('Break point = 229 mm', 383, 414.5, 22);

addText('Y = 23.459Pre + 533.85', 390.5, 914, 22);
addText(rsq('first line', '0.10'), 390.5, 940, 22);
addText('Break point = 885 mm', 390.5, 967, 22);

addText('Y = -0.468Tmax + 17.42', 171.5, 1466, 22);
addText(rsq('second line', '0.03'), 171.5, 1492, 22);
addText('Break point = 20.7 °C', 171.5, 1517, 22);

addText('TAWC in 1m soil at 10km × 10km resolution (mm)', 433.5, 508, 26, '', true);
addText('Pre at 10km × 10km resolution (mm yr<sup>-1</sup>)', 396, 1058, 26, '', true);
addText('Tmax at 10km × 10km&nbsp; resolution&nbsp; (°C)', 392.5, 1606, 26, '', true);
</script>
</body>
</html>
